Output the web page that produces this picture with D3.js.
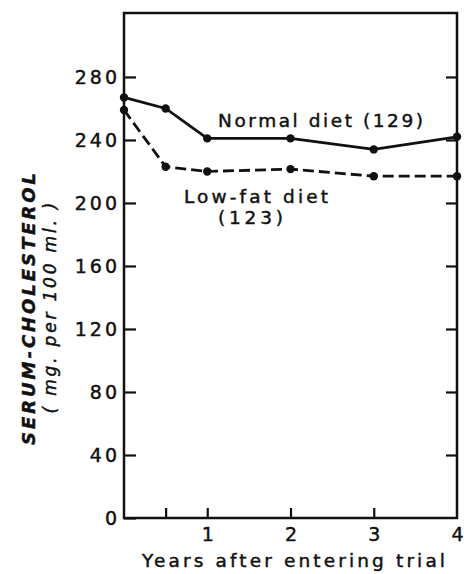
<!DOCTYPE html>
<html>
<head>
<meta charset="utf-8">
<script src="https://cdn.jsdelivr.net/npm/d3@7"></script>
<style>
  html, body { margin: 0; padding: 0; background: #fff; }
  svg text { font-family: "DejaVu Sans", sans-serif; fill: #111; stroke: #111; stroke-width: 0.45px; }
</style>
</head>
<body>
<svg id="chart" width="464" height="574"></svg>
<script>
const years = [0, 0.5, 1, 2, 3, 4];
const normalDiet = [267, 260, 241, 241, 234, 242];
const lowFatDiet = [259, 223, 220, 221.5, 217, 217];
const yTicks = [0, 40, 80, 120, 160, 200, 240, 280];
const xTicks = [0.5, 1, 2, 3, 4];
const xTickLabels = ["", "1", "2", "3", "4"];

const svg = d3.select("#chart");
const pLeft = 124, pRight = 457, pTop = 13, pBottom = 518;
const x = d3.scaleLinear().domain([0, 4]).range([pLeft, pRight]);
const y = d3.scaleLinear().domain([0, 320.6]).range([pBottom, pTop]);
const ink = "#111";

// frame
svg.append("rect").attr("x", pLeft).attr("y", pTop)
  .attr("width", pRight - pLeft).attr("height", pBottom - pTop)
  .attr("fill", "none").attr("stroke", ink).attr("stroke-width", 2.5);

// left axis
const gl = svg.append("g").attr("transform", `translate(${pLeft},0)`)
  .call(d3.axisLeft(y).tickValues(yTicks).tickSize(-12).tickPadding(4));
gl.select(".domain").remove();
gl.selectAll(".tick line").attr("stroke", ink).attr("stroke-width", 2.2);
gl.selectAll(".tick text").attr("font-size", 19).attr("fill", ink)
  .attr("letter-spacing", 3).attr("dy", "0.36em");

// right axis ticks
const gr = svg.append("g").attr("transform", `translate(${pRight},0)`)
  .call(d3.axisRight(y).tickValues(yTicks.filter(d => d > 0)).tickSize(-11).tickFormat(""));
gr.select(".domain").remove();
gr.selectAll(".tick line").attr("stroke", ink).attr("stroke-width", 2.2);

// bottom axis
const gb = svg.append("g").attr("transform", `translate(0,${pBottom})`)
  .call(d3.axisBottom(x).tickValues(xTicks).tickSize(-10).tickPadding(10)
    .tickFormat((d, i) => xTickLabels[i]));
gb.select(".domain").remove();
gb.selectAll(".tick line").attr("stroke", ink).attr("stroke-width", 2.2)
  .filter(d => d === 4).remove();
gb.selectAll(".tick text").attr("font-size", 19).attr("fill", ink);

// lines
const line = d3.line().x((d, i) => x(years[i])).y(d => y(d));
svg.append("path").datum(normalDiet).attr("d", line)
  .attr("fill", "none").attr("stroke", ink).attr("stroke-width", 2.8);
svg.append("path").datum(lowFatDiet).attr("d", line)
  .attr("fill", "none").attr("stroke", ink).attr("stroke-width", 2.8)
  .attr("stroke-dasharray", "11,5");

[normalDiet, lowFatDiet].forEach(s => {
  svg.append("g").selectAll("circle").data(s).join("circle")
    .attr("cx", (d, i) => x(years[i])).attr("cy", d => y(d)).attr("r", 4.2)
    .attr("fill", ink);
});

// series labels
svg.append("text").attr("x", 218).attr("y", 127).attr("font-size", 18.5)
  .attr("textLength", 205).attr("lengthAdjust", "spacing")
  .text("Normal diet (129)");
svg.append("text").attr("x", 184).attr("y", 203).attr("font-size", 18.5)
  .attr("textLength", 144).attr("lengthAdjust", "spacing")
  .text("Low-fat diet");
svg.append("text").attr("x", 218).attr("y", 224).attr("font-size", 18.5)
  .attr("textLength", 65).attr("lengthAdjust", "spacing")
  .text("(123)");

// axis titles
svg.append("text").attr("x", 142).attr("y", 567).attr("font-size", 18.5)
  .attr("textLength", 303).attr("lengthAdjust", "spacing")
  .text("Years after entering trial");

svg.append("text").attr("transform", "translate(35,309) rotate(-90)")
  .attr("text-anchor", "middle").attr("font-size", 18)
  .attr("font-style", "italic").attr("font-weight", "bold")
  .attr("textLength", 272).attr("lengthAdjust", "spacing")
  .text("SERUM-CHOLESTEROL");
svg.append("text").attr("transform", "translate(56,308) rotate(-90)")
  .attr("text-anchor", "middle").attr("font-size", 17)
  .attr("font-style", "italic")
  .attr("textLength", 211).attr("lengthAdjust", "spacing")
  .text("( mg. per 100 ml. )");
</script>
</body>
</html>
